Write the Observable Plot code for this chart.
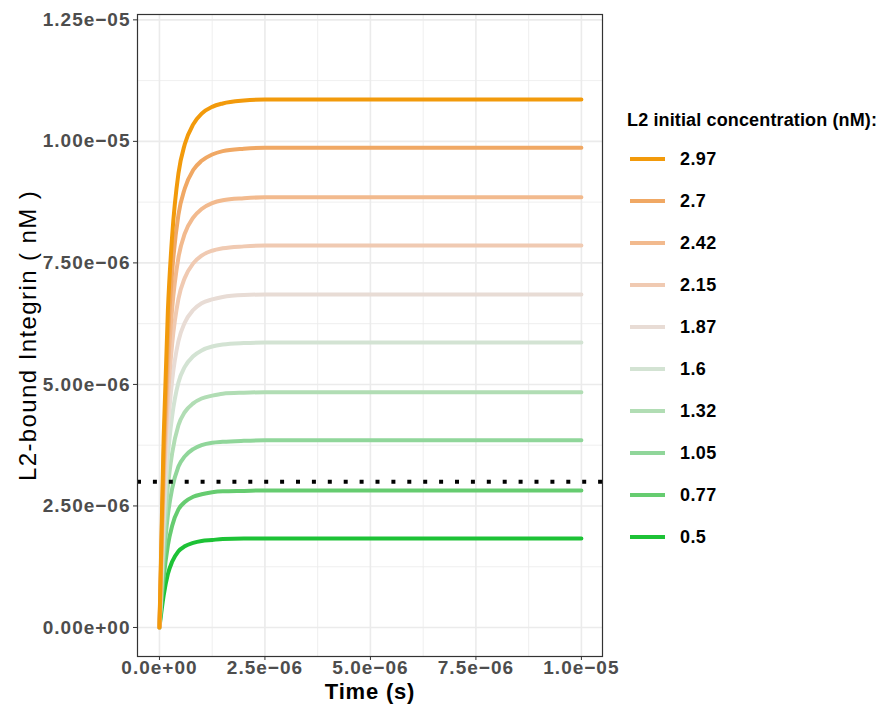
<!DOCTYPE html>
<html>
<head>
<meta charset="utf-8">
<script src="https://cdn.jsdelivr.net/npm/d3@7"></script>
<script src="https://cdn.jsdelivr.net/npm/@observablehq/plot@0.6"></script>
<style>
  html, body { margin: 0; padding: 0; background: #fff; }
  #chart { position: relative; width: 882px; height: 709px; }
  svg { font-family: "Liberation Sans", Arial, sans-serif; }
</style>
</head>
<body>
<div id="chart"></div>
<script>
// ---- data ----
const concentrations = ["2.97", "2.7", "2.42", "2.15", "1.87", "1.6", "1.32", "1.05", "0.77", "0.5"];
const colors = ["#F29A0B", "#F0A864", "#F2BA8E", "#F0CAB2", "#E8DCD5", "#D3E3D3", "#B1DDB4", "#90D69A", "#66CC70", "#1DC236"];
// time in seconds
const time = [0, 0.1e-6, 0.2e-6, 0.3e-6, 0.45e-6, 0.6e-6, 0.8e-6, 1.0e-6, 1.25e-6, 1.5e-6, 2.0e-6, 2.5e-6, 5e-6, 7.5e-6, 10e-6];
// bound integrin in units of 1e-6 nM
const bound297 = [0, 3.91, 6.52, 8.04, 9.34, 9.94, 10.35, 10.57, 10.71, 10.78, 10.84, 10.86, 10.86, 10.86, 10.86];
const bound270 = [0, 3.55, 5.92, 7.30, 8.49, 9.03, 9.41, 9.60, 9.73, 9.80, 9.85, 9.87, 9.87, 9.87, 9.87];
const bound242 = [0, 3.19, 5.31, 6.55, 7.61, 8.10, 8.43, 8.61, 8.73, 8.79, 8.83, 8.85, 8.85, 8.85, 8.85];
const bound215 = [0, 2.83, 4.72, 5.82, 6.76, 7.19, 7.49, 7.65, 7.75, 7.80, 7.84, 7.86, 7.86, 7.86, 7.86];
const bound187 = [0, 2.47, 4.11, 5.07, 5.89, 6.27, 6.53, 6.67, 6.75, 6.80, 6.84, 6.85, 6.85, 6.85, 6.85];
const bound160 = [0, 2.11, 3.52, 4.34, 5.04, 5.36, 5.58, 5.70, 5.78, 5.82, 5.85, 5.86, 5.86, 5.86, 5.86];
const bound132 = [0, 1.74, 2.90, 3.58, 4.16, 4.43, 4.61, 4.71, 4.77, 4.81, 4.83, 4.84, 4.84, 4.84, 4.84];
const bound105 = [0, 1.39, 2.31, 2.85, 3.31, 3.52, 3.67, 3.75, 3.80, 3.82, 3.84, 3.85, 3.85, 3.85, 3.85];
const bound077 = [0, 1.02, 1.69, 2.09, 2.43, 2.58, 2.69, 2.74, 2.78, 2.80, 2.81, 2.82, 2.82, 2.82, 2.82];
const bound050 = [0, 0.66, 1.10, 1.35, 1.57, 1.67, 1.74, 1.78, 1.80, 1.82, 1.83, 1.83, 1.83, 1.83, 1.83];
const threshold = [3e-6];
const xTicks = [0, 2.5e-6, 5e-6, 7.5e-6, 1e-5];
const xMinor = [1.25e-6, 3.75e-6, 6.25e-6, 8.75e-6];
const yTicks = [0, 2.5e-6, 5e-6, 7.5e-6, 1e-5, 1.25e-5];
const yMinor = [1.25e-6, 3.75e-6, 6.25e-6, 8.75e-6, 1.125e-5];
const xTitle = "Time (s)";
const yTitle = "L2-bound Integrin ( nM )";
const legendTitle = "L2 initial concentration (nM):";

// ---- table ----
const seriesValues = [bound297, bound270, bound242, bound215, bound187, bound160, bound132, bound105, bound077, bound050];
const rows = [];
seriesValues.forEach((vals, i) => {
  vals.forEach((v, j) => rows.push({conc: concentrations[i], color: colors[i], t: time[j], y: v * 1e-6}));
});
// draw lowest first so higher concentrations sit on top
rows.sort((a, b) => concentrations.indexOf(b.conc) - concentrations.indexOf(a.conc));

function fmt(d, digits) {
  const s = d.toExponential(digits);
  const [m, e] = s.split("e");
  const sign = e[0] === "-" ? "\u2212" : "+";
  return m + "e" + sign + String(Math.abs(+e)).padStart(2, "0");
}

const tickStyle = {fontSize: 19, fontWeight: "bold", fill: "#4D4D4D", stroke: "#333333"};

const plot = Plot.plot({
  width: 882,
  height: 709,
  marginLeft: 137,
  marginRight: 280,
  marginTop: 14,
  marginBottom: 53,
  x: {domain: [-0.52e-6, 10.5e-6]},
  y: {domain: [-0.597e-6, 12.61e-6]},
  marks: [
    Plot.gridX(xMinor, {stroke: "#EBEBEB", strokeOpacity: 1, strokeWidth: 0.8}),
    Plot.gridY(yMinor, {stroke: "#EBEBEB", strokeOpacity: 1, strokeWidth: 0.8}),
    Plot.gridX(xTicks, {stroke: "#EBEBEB", strokeOpacity: 1, strokeWidth: 1.6}),
    Plot.gridY(yTicks, {stroke: "#EBEBEB", strokeOpacity: 1, strokeWidth: 1.6}),
    Plot.line(rows, {x: "t", y: "y", z: "conc", stroke: "color", strokeWidth: 4, curve: "monotone-x"}),
    Plot.ruleY(threshold, {stroke: "black", strokeWidth: 4, strokeDasharray: "4,11.9"}),
    Plot.frame({stroke: "#333333", strokeWidth: 1.2}),
    Plot.axisY(yTicks, {...tickStyle, tickSize: 4, tickPadding: 3, tickFormat: d => fmt(d, 2), label: null}),
    Plot.axisX(xTicks, {...tickStyle, tickSize: 4, tickPadding: 0, tickFormat: d => fmt(d, 1), label: null}),
    Plot.text([yTitle], {frameAnchor: "left", dx: -109, rotate: -90, fontSize: 24, fill: "black", textAnchor: "middle"}),
    Plot.text([xTitle], {frameAnchor: "bottom", dy: 42, fontSize: 22, fontWeight: "bold", fill: "black", textAnchor: "middle"})
  ]
});

document.getElementById("chart").appendChild(plot);

const svg = d3.select(plot);
svg.selectAll('g[aria-label="y-axis tick label"], g[aria-label="x-axis tick label"]').attr("letter-spacing", "1px");
const titles = svg.selectAll('g[aria-label="text"]');
titles.filter((d, i) => i === 0).attr("letter-spacing", "1.4px");
titles.filter((d, i) => i === 1).attr("letter-spacing", "0.8px");

// ---- legend ----
const lg = svg.append("g").attr("font-family", "Liberation Sans, Arial, sans-serif").attr("text-anchor", "start");
lg.append("text").attr("x", 627).attr("y", 126).attr("font-size", 18).attr("font-weight", "bold")
  .attr("textLength", 250).attr("lengthAdjust", "spacing").attr("fill", "black").text(legendTitle);
concentrations.forEach((c, i) => {
  const y = 159 + i * 42;
  lg.append("line").attr("x1", 630).attr("x2", 665).attr("y1", y).attr("y2", y).attr("stroke", colors[i]).attr("stroke-width", 4);
  lg.append("text").attr("x", 680).attr("y", y).attr("dy", "0.36em").attr("font-size", 18).attr("font-weight", "bold").attr("letter-spacing", "0.4px").attr("fill", "black").text(c);
});
</script>
</body>
</html>
